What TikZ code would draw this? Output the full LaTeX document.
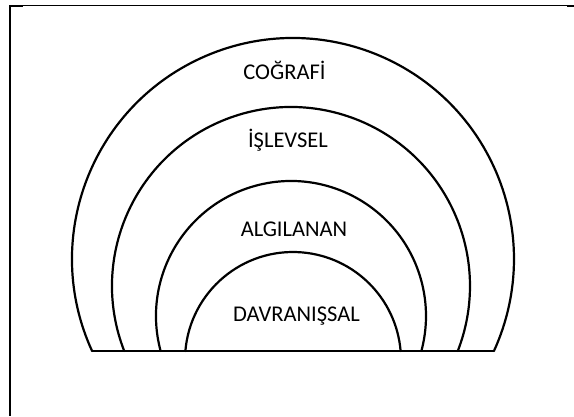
\documentclass[tikz,border=0pt]{standalone}
\usepackage{fontspec}
\setmainfont{Carlito}
\begin{document}
\begin{tikzpicture}[x=1pt,y=1pt,
  ring/.style={line width=2.2pt, line cap=round},
  lbl/.style={anchor=base, inner sep=0pt, font=\fontsize{22.5}{27}\selectfont, text=black}]
\useasboundingbox (0,0) rectangle (574,-416);
% frame (cropped)
\draw[line width=2.2pt] (9.8,-5) -- (9.8,-416);
\draw[line width=1.1pt] (9,-5.5) -- (574,-5.5);
\draw[line width=2pt] (9,-5.8) -- (23,-5.8);
\draw[line width=2pt] (567,-5.8) -- (574,-5.8);
% arcs
\coordinate (bL) at (92.1,-351);
\coordinate (bR) at (493.9,-351);
\draw[ring] ([shift={(204.6:221pt)}]293,-259) arc[start angle=204.6, end angle=-24.6, radius=221pt];
\draw[ring] ([shift={(201.3:179pt)}]291,-286) arc[start angle=201.3, end angle=-21.3, radius=179pt];
\draw[ring] ([shift={(195.0:135pt)}]291,-316) arc[start angle=195.0, end angle=-15.0, radius=135pt];
\draw[ring] ([shift={(175.2:108pt)}]293,-360) arc[start angle=175.2, end angle=4.8, radius=108pt];
\draw[ring] (bL) -- (bR);
% labels
\node[lbl] (cografi) at (284.5,-79.5) {COĞRAFİ};
\node[lbl] (islevsel) at (288,-147.5) {İŞLEVSEL};
\node[lbl] (algilanan) at (294,-236.5) {ALGILANAN};
\node[lbl] (davranissal) at (296.5,-321.5) {DAVRANIŞSAL};
\end{tikzpicture}
\end{document}
